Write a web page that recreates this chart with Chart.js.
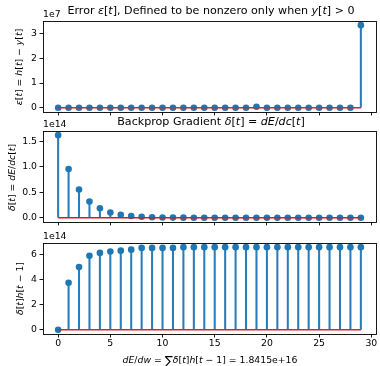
<!DOCTYPE html>
<html><head><meta charset="utf-8">
<script src="https://cdn.jsdelivr.net/npm/chart.js@4.4.0/dist/chart.umd.min.js"></script>
<style>
html,body{margin:0;padding:0;background:#fff;}
#wrap{position:relative;width:380px;height:366px;overflow:hidden;background:#fff;}
canvas{position:absolute;left:0;}
</style></head><body>
<div id="wrap">
<canvas id="c1" width="380" height="120" style="top:0px"></canvas>
<canvas id="c2" width="380" height="116" style="top:114px"></canvas>
<canvas id="c3" width="380" height="138" style="top:228px"></canvas>
</div>
<script>
// ---- data ----
const steps = [0,1,2,3,4,5,6,7,8,9,10,11,12,13,14,15,16,17,18,19,20,21,22,23,24,25,26,27,28,29];
const errorVals = [0,0,0,0,0,0,0,0,0,0,0,0,0,0,0,0,0,0,0,4e5,0,0,0,0,0,0,0,0,0,3.34e7];
const deltaVals = [1.62e14,0.955e14,0.555e14,0.318e14,0.186e14,0.105e14,0.060e14,0.035e14,0.020e14,0.012e14,
  0.007e14,0.004e14,0.0025e14,0.0015e14,0.001e14,0.0006e14,0.0004e14,0.0002e14,0.0001e14,0.0001e14,
  0.00005e14,0.00003e14,0.00002e14,0.00001e14,0.00001e14,0,0,0,0,0];
const deltaHVals = [0,3.75e14,5.0e14,5.9e14,6.12e14,6.23e14,6.30e14,6.38e14,6.52e14,6.52e14,
  6.52e14,6.52e14,6.58e14,6.58e14,6.58e14,6.58e14,6.58e14,6.58e14,6.58e14,6.58e14,
  6.58e14,6.58e14,6.58e14,6.58e14,6.58e14,6.58e14,6.58e14,6.58e14,6.58e14,6.58e14];
const xTicks = [0,5,10,15,20,25,30];
const errTicks = [0,1e7,2e7,3e7];
const deltaTicks = [0,0.5e14,1.0e14,1.5e14];
const deltaHTicks = [0,2e14,4e14,6e14];

const FONT = '"DejaVu Sans", sans-serif';
const TICK_SIZE = 9.3;
const LABEL_SIZE = 9.3;
const TITLE_SIZE = 11.1;

function drawRich(ctx, segs, x, y, size, rotate) {
  ctx.save();
  ctx.translate(x, y);
  if (rotate) ctx.rotate(-Math.PI/2);
  ctx.textBaseline = 'middle';
  ctx.fillStyle = '#000';
  let total = 0;
  const ws = segs.map(s => {
    const sz = s[2] ? size*s[2] : size;
    ctx.font = (s[1]==='i' ? 'italic ' : '') + sz + 'px ' + FONT;
    const w = ctx.measureText(s[0]).width;
    total += w; return w;
  });
  let cx = -total/2;
  segs.forEach((s,i) => {
    const sz = s[2] ? size*s[2] : size;
    ctx.font = (s[1]==='i' ? 'italic ' : '') + sz + 'px ' + FONT;
    ctx.textAlign = 'left';
    ctx.fillText(s[0], cx, s[3] ? s[3] : 0);
    cx += ws[i];
  });
  ctx.restore();
}

const decor = {
  id: 'decor',
  afterDraw(chart, args, opts) {
    const ctx = chart.ctx, a = chart.chartArea;
    ctx.save();
    ctx.strokeStyle = '#000';
    ctx.lineWidth = 0.9;
    ctx.strokeRect(Math.round(a.left)+0.5, Math.round(a.top)+0.5, Math.round(a.right-a.left), Math.round(a.bottom-a.top));
    ctx.restore();
    (opts.texts||[]).forEach(tx => {
      if (tx.plain) {
        ctx.save();
        ctx.font = tx.size + 'px ' + FONT;
        ctx.fillStyle = '#000';
        ctx.textAlign = tx.align || 'left';
        ctx.textBaseline = 'middle';
        ctx.fillText(tx.plain, tx.x, tx.y);
        ctx.restore();
      } else {
        drawRich(ctx, tx.segs, tx.x, tx.y, tx.size, tx.rotate);
      }
    });
  }
};

function makePanel(id, top, padTop, xHeight, values, yTicks, yFmt, showXLabels, baseColor, texts) {
  const ymax = Math.max(...values, 0), ymin = Math.min(...values, 0);
  const r = ymax - ymin;
  const xr = steps[steps.length-1] - steps[0];
  return new Chart(document.getElementById(id), {
    type: 'scatter',
    data: {
      datasets: [
        { type: 'bar', data: steps.map((s,i)=>({x:s, y:values[i]})), backgroundColor: '#2a7db8',
          borderWidth: 0, barThickness: 1.4, order: 3 },
        { type: 'scatter', data: steps.map((s,i)=>({x:s, y:values[i]})), pointRadius: 3.3,
          pointBackgroundColor: '#1f77b4', pointBorderWidth: 0, order: 2 },
        { type: 'line', data: [{x:steps[0], y:0},{x:steps[steps.length-1], y:0}], borderColor: baseColor,
          borderWidth: 1.5, pointRadius: 0, order: 1, clip: false }
      ]
    },
    options: {
      responsive: false, animation: false, devicePixelRatio: 1, events: [],
      layout: { padding: { top: padTop, right: 3, left: 0, bottom: 0 } },
      plugins: { legend: {display:false}, tooltip: {enabled:false}, decor: { texts } },
      scales: {
        x: {
          type: 'linear', offset: false, min: steps[0] - 0.05*xr, max: steps[steps.length-1] + 0.05*xr,
          afterBuildTicks: s => { s.ticks = xTicks.map(v => ({value: v})); },
          afterFit: s => { s.height = xHeight; },
          ticks: { autoSkip: false, maxRotation: 0, padding: 1, color: '#000',
            font: { family: FONT, size: TICK_SIZE },
            callback: v => showXLabels ? String(v) : '' },
          grid: { offset: false, drawOnChartArea: false, drawTicks: true, tickLength: 3.5, tickColor: '#000', tickWidth: 0.9 },
          border: { display: false }
        },
        y: {
          type: 'linear', min: ymin - 0.05*r, max: ymax + 0.05*r,
          afterBuildTicks: s => { s.ticks = yTicks.map(v => ({value: v})); },
          afterFit: s => { s.width = 43; },
          ticks: { autoSkip: false, padding: 2.5, color: '#000',
            font: { family: FONT, size: TICK_SIZE }, callback: yFmt },
          grid: { drawOnChartArea: false, drawTicks: true, tickLength: 3.5, tickColor: '#000', tickWidth: 0.9 },
          border: { display: false }
        }
      }
    },
    plugins: [decor]
  });
}

makePanel('c1', 0, 21, 7, errorVals, errTicks, v => (v/1e7).toFixed(0), false, '#d62728', [
  { segs: [['Error ','r'],['ε','i'],['[','r'],['t','i'],['], Defined to be nonzero only when ','r'],['y','i'],['[','r'],['t','i'],['] > 0','r']],
    x: 211, y: 11.5, size: TITLE_SIZE },
  { plain: '1e7', x: 43, y: 15, size: LABEL_SIZE },
  { segs: [['ε','i'],['[','r'],['t','i'],['] = ','r'],['h','i'],['[','r'],['t','i'],['] − ','r'],['y','i'],['[','r'],['t','i'],[']','r']],
    x: 20, y: 67, size: LABEL_SIZE, rotate: true }
]);

makePanel('c2', 114, 17, 6, deltaVals, deltaTicks, v => (v/1e14).toFixed(1), false, '#f0101a', [
  { segs: [['Backprop Gradient ','r'],['δ','i'],['[','r'],['t','i'],['] = ','r'],['dE','i'],['/','r'],['dc','i'],['[','r'],['t','i'],[']','r']],
    x: 211, y: 122 - 114, size: TITLE_SIZE },
  { plain: '1e14', x: 43, y: 125 - 114, size: LABEL_SIZE },
  { segs: [['δ','i'],['[','r'],['t','i'],['] = ','r'],['dE','i'],['/','r'],['dc','i'],['[','r'],['t','i'],[']','r']],
    x: 13, y: 177.5 - 114, size: LABEL_SIZE, rotate: true }
]);

makePanel('c3', 228, 15, 32, deltaHVals, deltaHTicks, v => (v/1e14).toFixed(0), true, '#d62728', [
  { plain: '1e14', x: 43, y: 237 - 228, size: LABEL_SIZE },
  { segs: [['δ','i'],['[','r'],['t','i'],[']','r'],['h','i'],['[','r'],['t','i'],[' − 1]','r']],
    x: 21, y: 288.5 - 228, size: LABEL_SIZE, rotate: true },
  { segs: [['dE','i'],['/','r'],['dw','i'],[' = ','r'],['∑','r',1.3,1],['δ','i'],['[','r'],['t','i'],[']','r'],['h','i'],['[','r'],['t','i'],[' − 1] = 1.8415e+16','r']],
    x: 210, y: 361 - 228, size: LABEL_SIZE }
]);
</script>
</body></html>
